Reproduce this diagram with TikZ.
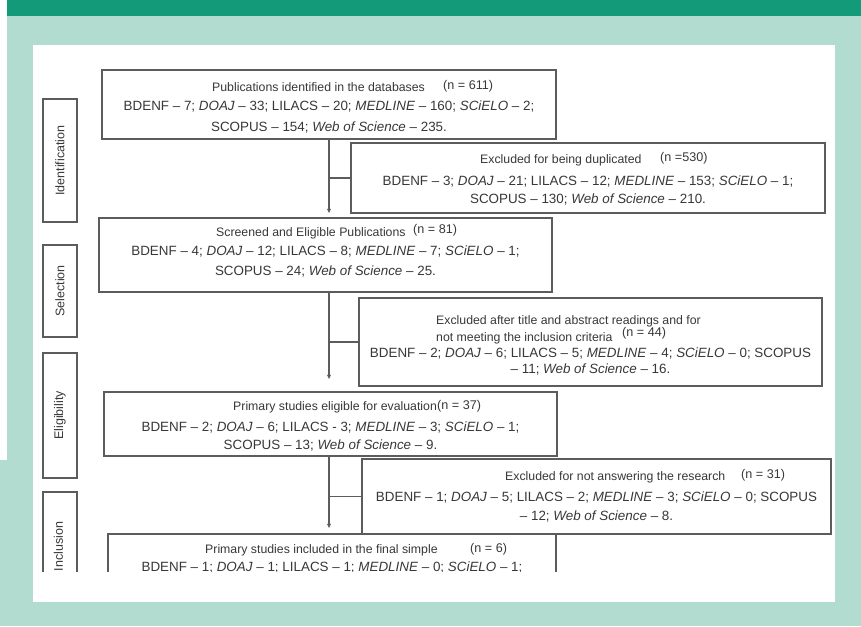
\documentclass[tikz,border=0pt]{standalone}
\usepackage{fontspec}
\setmainfont{Liberation Sans}
\usetikzlibrary{arrows.meta}
\definecolor{darkgreen}{HTML}{139A78}
\definecolor{lightgreen}{HTML}{B2DCD0}
\definecolor{ink}{HTML}{383838}
\definecolor{frame}{HTML}{5C5C5C}
\begin{document}
\begin{tikzpicture}[x=1pt,y=-1pt,
  boxst/.style={draw=frame, line width=1.3pt, inner sep=0pt, fill=white},
  labst/.style={boxst, minimum width=34pt},
  head/.style={anchor=base west, inner sep=0pt, font=\fontsize{12.3}{14}\selectfont, text=ink},
  nnum/.style={anchor=base west, inner sep=0pt, font=\fontsize{12.6}{14}\selectfont, text=ink},
  lst/.style={anchor=base, inner sep=0pt, font=\fontsize{13.4}{16}\selectfont, text=ink},
  labtxt/.style={inner sep=0pt, rotate=90, font=\fontsize{12.5}{14}\selectfont, text=ink},
  conn/.style={draw=frame, line width=1.3pt},
  arr/.style={conn, -{Latex[length=4.5pt,width=4.5pt]}}
]
\useasboundingbox (0,0) rectangle (861,626);
% background
\fill[lightgreen] (0,0) rectangle (861,626);
\fill[darkgreen] (0,0) rectangle (861,16);
\fill[white] (0,0) rectangle (7,460);
\fill[white] (33,45) rectangle (835,602);

\begin{scope}
\clip (33,45) rectangle (835,571);
% phase labels
\node[labst, minimum height=123pt] (lid) at (60,160.5) {};
\node[labst, minimum height=92pt] (lsel) at (60,291) {};
\node[labst, minimum height=125pt] (lel) at (60,415.5) {};
\node[labst, minimum height=110pt] (lin) at (60,547) {};
\node[labtxt] (tid) at (lid.center) {Identification};
\node[labtxt] (tsel) at (lsel.center) {Selection};
\node[labtxt] (tel) at (lel.center) {Eligibility};
\node[labtxt] (tin) at (58.5,546.5) {Inclusion};

% boxes
\node[boxst, minimum width=454pt, minimum height=69pt] (b1) at (329,104.5) {};
\node[boxst, minimum width=474pt, minimum height=70pt] (e1) at (588,178) {};
\node[boxst, minimum width=453pt, minimum height=74pt] (b2) at (325.5,255) {};
\node[boxst, minimum width=463pt, minimum height=88pt] (e2) at (590.5,342) {};
\node[boxst, minimum width=453pt, minimum height=64pt] (b3) at (330.5,424) {};
\node[boxst, minimum width=469pt, minimum height=75pt] (e3) at (596.5,496.5) {};
\node[boxst, minimum width=448pt, minimum height=70pt] (b4) at (332,569) {};

% texts box 1
\node[head] (b1h) at (212,91.3) {Publications identified in the databases};
\node[nnum] (b1n) at (443,89.5) {(n = 611)};
\node[lst] (b1a) at (329,110) {BDENF – 7; \textit{DOAJ} – 33; LILACS – 20; \textit{MEDLINE} – 160; \textit{SCiELO} – 2;};
\node[lst] (b1b) at (329,131) {SCOPUS – 154; \textit{Web of Science} – 235.};
% excl 1
\node[head] (e1h) at (480,163.3) {Excluded for being duplicated};
\node[nnum] (e1n) at (660,161.5) {(n =530)};
\node[lst] (e1a) at (588,185.8) {BDENF – 3; \textit{DOAJ} – 21; LILACS – 12; \textit{MEDLINE} – 153; \textit{SCiELO} – 1;};
\node[lst] (e1b) at (588,203.8) {SCOPUS – 130; \textit{Web of Science} – 210.};
% box 2
\node[head] (b2h) at (216,236.3) {Screened and Eligible Publications};
\node[nnum] (b2n) at (413,233.5) {(n = 81)};
\node[lst] (b2a) at (325.5,255.8) {BDENF – 4; \textit{DOAJ} – 12; LILACS – 8; \textit{MEDLINE} – 7; \textit{SCiELO} – 1;};
\node[lst] (b2b) at (325.5,275.8) {SCOPUS – 24; \textit{Web of Science} – 25.};
% excl 2
\node[head] (e2h) at (436,324.3) {Excluded after title and abstract readings and for};
\node[head] (e2i) at (436,341.3) {not meeting the inclusion criteria};
\node[nnum] (e2n) at (622,336.5) {(n = 44)};
\node[lst] (e2a) at (590.5,357.8) {BDENF – 2; \textit{DOAJ} – 6; LILACS – 5; \textit{MEDLINE} – 4; \textit{SCiELO} – 0; SCOPUS};
\node[lst] (e2b) at (590.5,373.8) {– 11; \textit{Web of Science} – 16.};
% box 3
\node[head] (b3h) at (233,410.3) {Primary studies eligible for evaluation};
\node[nnum] (b3n) at (437,409.5) {(n = 37)};
\node[lst] (b3a) at (330.5,431.8) {BDENF – 2; \textit{DOAJ} – 6; LILACS - 3; \textit{MEDLINE} – 3; \textit{SCiELO} – 1;};
\node[lst] (b3b) at (330.5,449.8) {SCOPUS – 13; \textit{Web of Science} – 9.};
% excl 3
\node[head] (e3h) at (505,480.3) {Excluded for not answering the research};
\node[nnum] (e3n) at (741,478.5) {(n = 31)};
\node[lst] (e3a) at (596.5,501.8) {BDENF – 1; \textit{DOAJ} – 5; LILACS – 2; \textit{MEDLINE} – 3; \textit{SCiELO} – 0; SCOPUS};
\node[lst] (e3b) at (596.5,520.8) {– 12; \textit{Web of Science} – 8.};
% box 4
\node[head] (b4h) at (205,553.3) {Primary studies included in the final simple};
\node[nnum] (b4n) at (470,552.5) {(n = 6)};
\node[lst] (b4a) at (332,571.8) {BDENF – 1; \textit{DOAJ} – 1; LILACS – 1; \textit{MEDLINE} – 0; \textit{SCiELO} – 1;};

% connectors
\draw[arr, shorten >=4pt] (b1.south) -- (b1.south |- b2.north);
\draw[conn] (b1.south |- e1.west) -- (e1.west);
\draw[arr, shorten >=12pt] (b1.south |- b2.south) -- (b1.south |- b3.north);
\draw[conn] (b1.south |- e2.west) -- (e2.west);
\draw[arr, shorten >=5pt] (b1.south |- b3.south) -- (b1.south |- b4.north);
\draw[conn] (b1.south |- e3.west) -- (e3.west);
\end{scope}
\end{tikzpicture}
\end{document}
